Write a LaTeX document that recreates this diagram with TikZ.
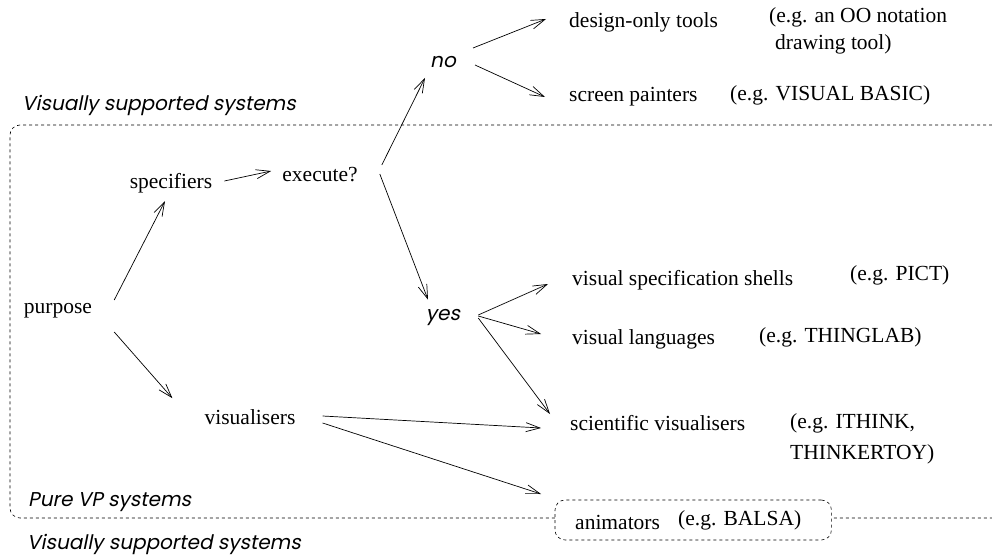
\documentclass[tikz,border=0pt]{standalone}
\usepackage{fontspec}
\setmainfont{Liberation Serif}
\newfontfamily\sysfont[FakeSlant=0.2]{Poppins}
\usetikzlibrary{arrows.meta,fit,backgrounds}
\tikzset{
  line/.style={draw,line width=0.7pt,-{Straight Barb[length=14pt,width=9pt,line width=0.7pt]}},
  txt/.style={inner sep=0pt,font=\fontsize{21.5}{27}\selectfont},
  sys/.style={inner sep=0pt,font=\sysfont\fontsize{20}{24}\selectfont},
  dots/.style={draw,line width=0.6pt,dash pattern=on 3pt off 3pt,rounded corners=10pt}
}
\begin{document}
\begin{tikzpicture}[x=1pt,y=-1pt]
  \useasboundingbox (0,0) rectangle (992,556);
  \clip (0,0) rectangle (992,556);
  \node[txt] (purpose) at (58,311) {purpose};
  \node[txt] (spec) at (171,183) {specifiers};
  \node[txt] (exec) at (320,175) {execute?};
  \node[txt] (vis) at (250,417) {visualisers};
  \node[sys] (no) at (443,62) {no};
  \node[sys] (yes) at (443,318) {yes};
  \node[txt,anchor=west] (design) at (569,22) {design-only tools};
  \node[txt,anchor=west,align=left] (oo) at (769,31) {(e.g. an OO notation\\\hspace*{6pt}drawing tool)};
  \node[txt,anchor=west] (screen) at (569,97) {screen painters};
  \node[txt,anchor=west] (vb) at (730,95) {(e.g. VISUAL BASIC)};
  \node[txt,anchor=west] (vss) at (572,280) {visual specification shells};
  \node[txt,anchor=west] (pict) at (850,275) {(e.g. PICT)};
  \node[txt,anchor=west] (vl) at (572,339) {visual languages};
  \node[txt,anchor=west] (tlab) at (759,337) {(e.g. THINGLAB)};
  \node[txt,anchor=west] (sv) at (570,423) {scientific visualisers};
  \node[txt,anchor=west,align=left,font=\fontsize{21.5}{31}\selectfont] (ithink) at (790,439) {(e.g. ITHINK,\\THINKERTOY)};
  \node[txt,anchor=west] (ani) at (575,522) {animators};
  \node[txt,anchor=west] (balsa) at (678,520) {(e.g. BALSA)};
  \node[sys,anchor=west] (vss1) at (22,105) {Visually supported systems};
  \node[sys,anchor=west] (pure) at (28,502) {Pure VP systems};
  \node[sys,anchor=west] (vss2) at (27,544) {Visually supported systems};
  \begin{scope}[on background layer]
    \draw[dots] (1010,125) -- (10,125) -- (10,518) -- (1010,518);
    \node[dots,fill=white,fit=(ani)(balsa),inner xsep=25pt,inner ysep=10pt,xshift=5pt] (anibox) {};
  \end{scope}
  \draw[line] ([shift={(22,-11)}]purpose.east) -- ([shift={(-6,8)}]spec.south);
  \draw[line] ([shift={(22,21)}]purpose.east) -- ([shift={(-32,-11)}]vis.north west);
  \draw[line] ([shift={(12,-2)}]spec.east) -- ([shift={(-11,-4)}]exec.west);
  \draw[line] ([shift={(24,-10)}]exec.east) -- ([shift={(-18,10)}]no.south);
  \draw[line] ([shift={(22,-1)}]exec.east) -- ([shift={(-15,-10)}]yes.north);
  \draw[line] ([shift={(17,-14)}]no.east) -- ([shift={(-23,-3)}]design.west);
  \draw[line] ([shift={(19,3)}]no.east) -- ([shift={(-24,0)}]screen.west);
  \draw[line] ([shift={(18,-3)}]yes.east) -- ([shift={(-24,4)}]vss.west);
  \draw[line] ([shift={(18,-2)}]yes.east) -- ([shift={(-31,-5)}]vl.west);
  \draw[line] ([shift={(18,0)}]yes.east) -- ([shift={(-20,-9)}]sv.west);
  \draw[line] ([shift={(27,-1)}]vis.east) -- ([shift={(-29,5)}]sv.west);
  \draw[line] ([shift={(27,6)}]vis.east) -- ([shift={(-34,-28)}]ani.west);
\end{tikzpicture}
\end{document}
